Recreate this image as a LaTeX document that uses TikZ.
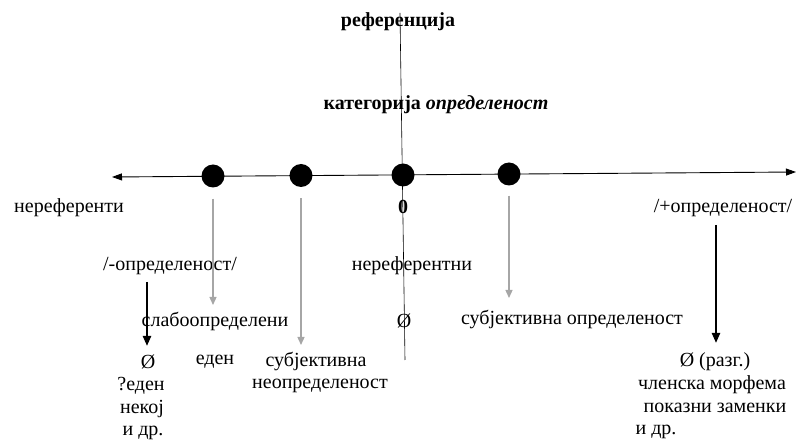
\documentclass[tikz,border=0pt]{standalone}
\usepackage{fontspec}
\setmainfont{Liberation Serif}
\usetikzlibrary{arrows.meta}
\begin{document}
\begin{tikzpicture}[x=1pt,y=-1pt,
  lbl/.style={font=\fontsize{20}{24}\selectfont, inner sep=0pt, anchor=center},
  bl/.style={lbl, font=\fontsize{20}{24}\selectfont\bfseries},
  dot/.style={circle, fill=black, minimum size=23pt, inner sep=0pt},
  grayarr/.style={draw=gray!70, line width=1.3pt, -{Triangle[length=8pt,width=7pt]}},
  blackarr/.style={draw=black, line width=2.2pt, -{Triangle[length=10pt,width=8pt]}},
  axis/.style={draw=black, line width=0.9pt, {Triangle[length=10pt,width=7pt]}-{Triangle[length=10pt,width=7pt]}}]
\useasboundingbox (0,0) rectangle (796,446);
% vertical line
\coordinate (vt) at (400,13);
\coordinate (vb) at (405,360);
\draw[line width=0.6pt] (vt) -- (vb);
% titles
\node[bl] (ref) at (398,22) {референција};
\node[bl] (cat) at (436,105) {категорија \textit{определеност}};
% axis
\coordinate (al) at (112,177);
\coordinate (ar) at (796,172);
\draw[axis] (al) -- (ar);
\node[dot] (d1) at (213,176) {};
\node[dot] (d2) at (301,175.5) {};
\node[dot] (d3) at (403,175) {};
\node[dot] (d4) at (509,174) {};
% labels row
\node[bl] (zero) at (403,207) {0};
\node[lbl] (neref) at (69,208) {нереференти};
\node[lbl] (plusdef) at (723,208) {/+определеност/};
\node[lbl] (minusdef) at (170,266) {/-определеност/};
\node[lbl] (nerefn) at (412,266) {нереферентни};
\node[lbl] (slabo) at (215,321) {слабоопределени};
\node[lbl] (o1) at (404,321) {Ø};
\node[lbl] (subdef) at (572,320) {субјективна определеност};
% bottom left
\node[lbl] (o2) at (148,362) {Ø};
\node[lbl] (eden) at (215,362) {еден};
\node[lbl] (subj) at (316,362) {субјективна};
\node[lbl] (neopr) at (320,386) {неопределеност};
\node[lbl] (qeden) at (141,386) {?еден};
\node[lbl] (nekoj) at (142,409) {некој};
\node[lbl] (idr1) at (143,433) {и др.};
% bottom right
\node[lbl] (o3) at (715,362) {Ø (разг.)};
\node[lbl] (clen) at (712,385) {членска морфема};
\node[lbl] (pokaz) at (715,408) {показни заменки};
\node[lbl] (idr2) at (656,432) {и др.};
% arrows
\coordinate (g1e) at (213,305);
\coordinate (g2e) at (301,345);
\coordinate (g4e) at (509,298);
\draw[grayarr] (d1.south) ++(0,11) -- (g1e);
\draw[grayarr] (d2.south) ++(0,11) -- (g2e);
\draw[grayarr] (d4.south) ++(0,10) -- (g4e);
\coordinate (b1s) at (147,282);
\coordinate (b2s) at (716,225);
\draw[blackarr] (b1s) -- (147,346);
\draw[blackarr] (b2s) -- (716,343);
\end{tikzpicture}
\end{document}
